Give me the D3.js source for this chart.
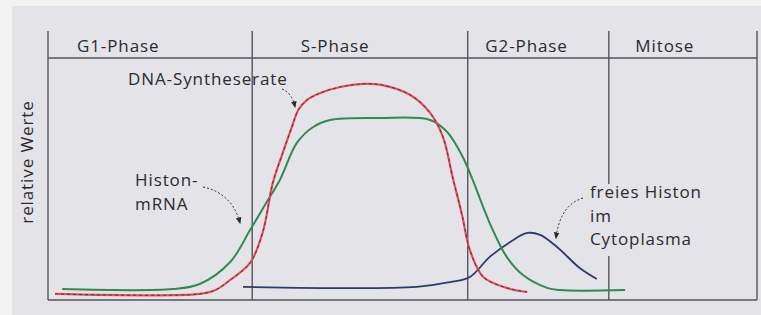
<!DOCTYPE html>
<html><head><meta charset="utf-8">
<script src="https://cdn.jsdelivr.net/npm/d3@7"></script>
<style>
html,body{margin:0;padding:0;background:#f3f3f3;}
svg{display:block;}
text{font-family:"Open Sans","Noto Sans",sans-serif;fill:#2b2b2e;letter-spacing:0.9px;}
</style></head><body>
<svg id="c" width="761" height="315"></svg>
<script>
// ---- data ----
const phases = ["G1-Phase", "S-Phase", "G2-Phase", "Mitose"];
const phaseBounds = [0, 28.8, 59.2, 79.1, 100];
const phaseLabelX = [9.9, 40.5, 67.5, 87.0];

const dnaT = [1.0, 21.4, 23.6, 25.7, 28.5, 30.3, 31.7, 33.1, 34.4, 35.3, 36.5, 38.4, 41.2, 44.4, 47.2, 51.1, 53.9, 55.7, 57.1, 58.4, 59.5, 61.4, 64.7, 67.6];
const dnaV = [2.5, 2.5, 4.1, 8.3, 15.3, 28.1, 48.3, 60.7, 71.5, 78.5, 82.6, 85.5, 88.0, 89.3, 88.8, 84.7, 77.3, 67.4, 50.4, 35.1, 20.7, 9.5, 5.0, 3.3];

const mrnaT = [2.0, 17.6, 21.4, 25.7, 28.5, 30.6, 32.7, 35.1, 37.4, 39.8, 46.8, 53.9, 56.3, 58.5, 59.9, 62.3, 64.7, 67.0, 70.4, 72.2, 81.4];
const mrnaV = [4.5, 4.5, 6.6, 15.7, 28.9, 39.3, 49.6, 64.9, 71.5, 74.4, 75.2, 74.4, 69.4, 59.1, 49.6, 31.8, 17.8, 10.3, 5.0, 4.1, 4.1];

const histT = [27.5, 52.0, 56.7, 59.5, 62.3, 65.2, 67.6, 69.4, 71.8, 75.0, 77.4];
const histV = [5.4, 5.4, 7.4, 9.5, 17.8, 24.0, 27.7, 26.9, 21.9, 13.2, 8.7];

const yLabel = "relative Werte";

// ---- layout ----
const svg = d3.select("#c");
const L = 48, R = 757, T = 31, B = 300, H = 58;
const x = d3.scaleLinear().domain([0, 100]).range([L, R]);
const y = d3.scaleLinear().domain([0, 100]).range([B, H]);
const bg = "#e4e3e8";
const FS = 17;

svg.append("rect").attr("x", 12).attr("y", 6).attr("width", 749).attr("height", 309).attr("fill", bg);

const frame = svg.append("g").attr("stroke", "#55555c").attr("stroke-width", 1.4).attr("fill", "none");
phaseBounds.forEach(b => {
  frame.append("line").attr("x1", x(b)).attr("x2", x(b)).attr("y1", T).attr("y2", B);
});
frame.append("line").attr("x1", L).attr("x2", R).attr("y1", H).attr("y2", H);
frame.append("line").attr("x1", L).attr("x2", R).attr("y1", B).attr("y2", B);

phases.forEach((p, i) => {
  svg.append("text").attr("x", x(phaseLabelX[i])).attr("y", 52)
    .attr("text-anchor", "middle").attr("font-size", FS).text(p);
});

svg.append("text").attr("transform", "translate(33,162) rotate(-90)")
  .attr("text-anchor", "middle").attr("font-size", FS).text(yLabel);

// ---- curves ----
const line = d3.line().x(d => x(d[0])).y(d => y(d[1])).curve(d3.curveCatmullRom.alpha(0.5));
const zip = (a, b) => a.map((v, i) => [v, b[i]]);

// mask for Mitose divider behind label
svg.append("rect").attr("x", 588).attr("y", 184).attr("width", 120).attr("height", 72).attr("fill", bg);

svg.append("path").attr("d", line(zip(histT, histV))).attr("fill", "none")
  .attr("stroke", "#2c3b6b").attr("stroke-width", 1.8);
svg.append("path").attr("d", line(zip(mrnaT, mrnaV))).attr("fill", "none")
  .attr("stroke", "#2f8a55").attr("stroke-width", 2);
svg.append("path").attr("d", line(zip(dnaT, dnaV))).attr("fill", "none")
  .attr("stroke", "#e0515f").attr("stroke-width", 2.2);
svg.append("path").attr("d", line(zip(dnaT, dnaV))).attr("fill", "none")
  .attr("stroke", "#6b2030").attr("stroke-width", 0.9).attr("stroke-dasharray", "3,3");

// ---- annotations ----
svg.append("defs").append("marker").attr("id", "ah").attr("viewBox", "0 0 10 10")
  .attr("refX", 8).attr("refY", 5).attr("markerWidth", 7).attr("markerHeight", 7)
  .attr("orient", "auto").append("path").attr("d", "M0,1 L10,5 L0,9 Z").attr("fill", "#2b2b2e");

function arrow(x0, y0, cx, cy, x1, y1) {
  const p = d3.path(); p.moveTo(x0, y0); p.quadraticCurveTo(cx, cy, x1, y1);
  svg.append("path").attr("d", p.toString()).attr("fill", "none").attr("stroke", "#2b2b2e")
    .attr("stroke-width", 1).attr("stroke-dasharray", "2,2").attr("marker-end", "url(#ah)");
}

svg.append("text").attr("x", 128).attr("y", 85).attr("font-size", FS).text("DNA-Syntheserate");
arrow(282, 89, 292, 93, 295, 107);

const hm = svg.append("text").attr("x", 135).attr("y", 186).attr("font-size", FS);
hm.append("tspan").attr("x", 135).text("Histon-");
hm.append("tspan").attr("x", 135).attr("dy", 24).text("mRNA");
arrow(203, 187, 232, 193, 240, 223);

const fh = svg.append("text").attr("x", 590).attr("y", 198).attr("font-size", FS);
fh.append("tspan").attr("x", 590).text("freies Histon");
fh.append("tspan").attr("x", 590).attr("dy", 23.5).text("im");
fh.append("tspan").attr("x", 590).attr("dy", 23.5).text("Cytoplasma");
arrow(583, 198, 560, 205, 556, 238);
</script></body></html>
